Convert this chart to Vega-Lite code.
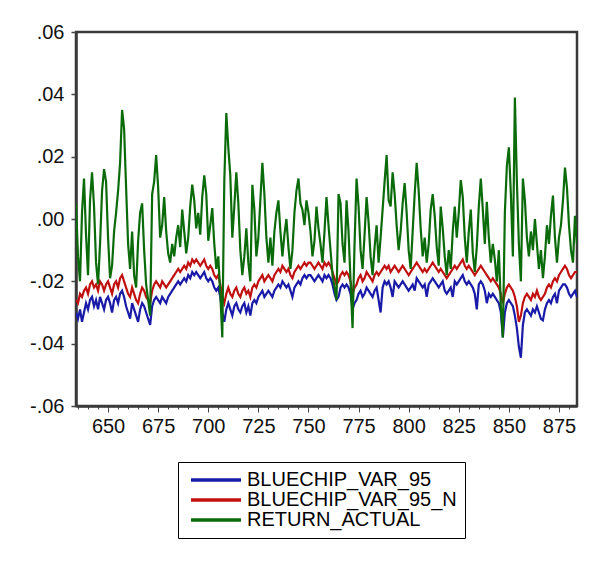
{
  "$schema": "https://vega.github.io/schema/vega-lite/v6.json",
  "autosize": "none",
  "padding": {"left": 76, "top": 32, "right": 33, "bottom": 161},
  "width": 501,
  "height": 374,
  "background": "white",
  "config": {
    "view": {"stroke": "#3a3a3a", "strokeWidth": 2.5},
    "font": "Liberation Sans"
  },
  "data": {"values": [
{"t":634,"b":-0.030,"r":-0.026,"g":0.005},
{"t":635,"b":-0.032,"r":-0.027,"g":-0.012},
{"t":636,"b":-0.029,"r":-0.024,"g":-0.020},
{"t":637,"b":-0.033,"r":-0.025,"g":0.002},
{"t":638,"b":-0.030,"r":-0.023,"g":0.013},
{"t":639,"b":-0.027,"r":-0.022,"g":-0.005},
{"t":640,"b":-0.029,"r":-0.024,"g":-0.018},
{"t":641,"b":-0.026,"r":-0.021,"g":0.006},
{"t":642,"b":-0.025,"r":-0.020,"g":0.015},
{"t":643,"b":-0.028,"r":-0.022,"g":0.004},
{"t":644,"b":-0.026,"r":-0.021,"g":-0.014},
{"t":645,"b":-0.029,"r":-0.023,"g":-0.021},
{"t":646,"b":-0.025,"r":-0.020,"g":-0.008},
{"t":647,"b":-0.027,"r":-0.021,"g":0.009},
{"t":648,"b":-0.029,"r":-0.023,"g":0.016},
{"t":649,"b":-0.026,"r":-0.021,"g":0.012},
{"t":650,"b":-0.025,"r":-0.020,"g":-0.006},
{"t":651,"b":-0.027,"r":-0.022,"g":-0.019},
{"t":652,"b":-0.030,"r":-0.024,"g":-0.015},
{"t":653,"b":-0.026,"r":-0.021,"g":-0.004},
{"t":654,"b":-0.025,"r":-0.020,"g":0.002},
{"t":655,"b":-0.027,"r":-0.022,"g":0.009},
{"t":656,"b":-0.024,"r":-0.019,"g":0.018},
{"t":657,"b":-0.023,"r":-0.018,"g":0.035},
{"t":658,"b":-0.025,"r":-0.020,"g":0.029},
{"t":659,"b":-0.028,"r":-0.022,"g":0.010},
{"t":660,"b":-0.030,"r":-0.024,"g":-0.008},
{"t":661,"b":-0.032,"r":-0.025,"g":-0.016},
{"t":662,"b":-0.027,"r":-0.022,"g":-0.004},
{"t":663,"b":-0.029,"r":-0.024,"g":-0.018},
{"t":664,"b":-0.031,"r":-0.026,"g":-0.022},
{"t":665,"b":-0.033,"r":-0.027,"g":-0.007},
{"t":666,"b":-0.029,"r":-0.024,"g":0.002},
{"t":667,"b":-0.027,"r":-0.022,"g":0.005},
{"t":668,"b":-0.028,"r":-0.023,"g":-0.010},
{"t":669,"b":-0.030,"r":-0.025,"g":-0.021},
{"t":670,"b":-0.032,"r":-0.026,"g":-0.026},
{"t":671,"b":-0.034,"r":-0.027,"g":-0.031},
{"t":672,"b":-0.028,"r":-0.023,"g":0.008},
{"t":673,"b":-0.026,"r":-0.021,"g":0.012},
{"t":674,"b":-0.025,"r":-0.020,"g":0.0205},
{"t":675,"b":-0.026,"r":-0.021,"g":0.010},
{"t":676,"b":-0.027,"r":-0.022,"g":-0.006},
{"t":677,"b":-0.025,"r":-0.020,"g":-0.002},
{"t":678,"b":-0.026,"r":-0.021,"g":0.007},
{"t":679,"b":-0.027,"r":-0.022,"g":-0.004},
{"t":680,"b":-0.025,"r":-0.021,"g":-0.011},
{"t":681,"b":-0.024,"r":-0.020,"g":-0.014},
{"t":682,"b":-0.023,"r":-0.019,"g":-0.008},
{"t":683,"b":-0.022,"r":-0.018,"g":-0.012},
{"t":684,"b":-0.021,"r":-0.017,"g":-0.006},
{"t":685,"b":-0.020,"r":-0.016,"g":-0.002},
{"t":686,"b":-0.021,"r":-0.017,"g":-0.009},
{"t":687,"b":-0.020,"r":-0.016,"g":0.003},
{"t":688,"b":-0.019,"r":-0.015,"g":-0.004},
{"t":689,"b":-0.020,"r":-0.016,"g":-0.011},
{"t":690,"b":-0.018,"r":-0.014,"g":-0.006},
{"t":691,"b":-0.019,"r":-0.015,"g":0.004},
{"t":692,"b":-0.017,"r":-0.013,"g":0.011},
{"t":693,"b":-0.018,"r":-0.014,"g":0.006},
{"t":694,"b":-0.017,"r":-0.013,"g":-0.003},
{"t":695,"b":-0.018,"r":-0.014,"g":0.002},
{"t":696,"b":-0.019,"r":-0.015,"g":-0.005},
{"t":697,"b":-0.018,"r":-0.014,"g":0.007},
{"t":698,"b":-0.017,"r":-0.013,"g":0.014},
{"t":699,"b":-0.019,"r":-0.015,"g":0.008},
{"t":700,"b":-0.020,"r":-0.016,"g":-0.007},
{"t":701,"b":-0.019,"r":-0.015,"g":-0.002},
{"t":702,"b":-0.020,"r":-0.016,"g":0.0035},
{"t":703,"b":-0.022,"r":-0.018,"g":-0.008},
{"t":704,"b":-0.023,"r":-0.019,"g":-0.016},
{"t":705,"b":-0.022,"r":-0.018,"g":-0.012},
{"t":706,"b":-0.025,"r":-0.021,"g":-0.024},
{"t":707,"b":-0.030,"r":-0.025,"g":-0.038},
{"t":708,"b":-0.033,"r":-0.027,"g":0.012},
{"t":709,"b":-0.029,"r":-0.024,"g":0.034},
{"t":710,"b":-0.027,"r":-0.022,"g":0.023},
{"t":711,"b":-0.029,"r":-0.024,"g":0.014},
{"t":712,"b":-0.031,"r":-0.025,"g":-0.006},
{"t":713,"b":-0.028,"r":-0.023,"g":0.004},
{"t":714,"b":-0.027,"r":-0.022,"g":0.015},
{"t":715,"b":-0.029,"r":-0.024,"g":0.005},
{"t":716,"b":-0.030,"r":-0.025,"g":-0.010},
{"t":717,"b":-0.028,"r":-0.023,"g":-0.018},
{"t":718,"b":-0.027,"r":-0.022,"g":-0.012},
{"t":719,"b":-0.030,"r":-0.024,"g":-0.003},
{"t":720,"b":-0.028,"r":-0.023,"g":-0.014},
{"t":721,"b":-0.031,"r":-0.025,"g":-0.020},
{"t":722,"b":-0.027,"r":-0.022,"g":0.011},
{"t":723,"b":-0.026,"r":-0.021,"g":0.003},
{"t":724,"b":-0.027,"r":-0.022,"g":-0.012},
{"t":725,"b":-0.025,"r":-0.020,"g":-0.006},
{"t":726,"b":-0.024,"r":-0.019,"g":0.006},
{"t":727,"b":-0.023,"r":-0.018,"g":0.018},
{"t":728,"b":-0.025,"r":-0.020,"g":0.008},
{"t":729,"b":-0.024,"r":-0.019,"g":-0.006},
{"t":730,"b":-0.023,"r":-0.018,"g":-0.014},
{"t":731,"b":-0.024,"r":-0.019,"g":-0.006},
{"t":732,"b":-0.025,"r":-0.020,"g":-0.015},
{"t":733,"b":-0.023,"r":-0.018,"g":-0.004},
{"t":734,"b":-0.022,"r":-0.017,"g":0.002},
{"t":735,"b":-0.021,"r":-0.016,"g":0.006},
{"t":736,"b":-0.022,"r":-0.017,"g":-0.004},
{"t":737,"b":-0.020,"r":-0.015,"g":-0.012},
{"t":738,"b":-0.021,"r":-0.016,"g":-0.005},
{"t":739,"b":-0.022,"r":-0.017,"g":0.000},
{"t":740,"b":-0.021,"r":-0.016,"g":-0.009},
{"t":741,"b":-0.023,"r":-0.018,"g":-0.016},
{"t":742,"b":-0.025,"r":-0.019,"g":-0.010},
{"t":743,"b":-0.022,"r":-0.017,"g":0.002},
{"t":744,"b":-0.021,"r":-0.016,"g":0.009},
{"t":745,"b":-0.020,"r":-0.015,"g":0.013},
{"t":746,"b":-0.021,"r":-0.016,"g":0.005},
{"t":747,"b":-0.019,"r":-0.015,"g":0.003},
{"t":748,"b":-0.018,"r":-0.014,"g":-0.002},
{"t":749,"b":-0.019,"r":-0.015,"g":0.006},
{"t":750,"b":-0.018,"r":-0.014,"g":0.002},
{"t":751,"b":-0.018,"r":-0.014,"g":-0.004},
{"t":752,"b":-0.019,"r":-0.015,"g":-0.012},
{"t":753,"b":-0.020,"r":-0.016,"g":-0.007},
{"t":754,"b":-0.019,"r":-0.015,"g":0.004},
{"t":755,"b":-0.018,"r":-0.014,"g":-0.003},
{"t":756,"b":-0.019,"r":-0.015,"g":-0.008},
{"t":757,"b":-0.020,"r":-0.016,"g":-0.014},
{"t":758,"b":-0.018,"r":-0.014,"g":-0.004},
{"t":759,"b":-0.019,"r":-0.015,"g":0.007},
{"t":760,"b":-0.018,"r":-0.014,"g":-0.002},
{"t":761,"b":-0.019,"r":-0.015,"g":-0.010},
{"t":762,"b":-0.021,"r":-0.017,"g":-0.018},
{"t":763,"b":-0.024,"r":-0.019,"g":-0.022},
{"t":764,"b":-0.026,"r":-0.021,"g":-0.026},
{"t":765,"b":-0.025,"r":-0.020,"g":0.008},
{"t":766,"b":-0.022,"r":-0.018,"g":0.005},
{"t":767,"b":-0.021,"r":-0.017,"g":-0.008},
{"t":768,"b":-0.022,"r":-0.018,"g":-0.014},
{"t":769,"b":-0.021,"r":-0.017,"g":0.006},
{"t":770,"b":-0.022,"r":-0.018,"g":-0.004},
{"t":771,"b":-0.024,"r":-0.020,"g":-0.020},
{"t":772,"b":-0.029,"r":-0.024,"g":-0.035},
{"t":773,"b":-0.027,"r":-0.022,"g":-0.008},
{"t":774,"b":-0.026,"r":-0.021,"g":0.013},
{"t":775,"b":-0.024,"r":-0.019,"g":0.004},
{"t":776,"b":-0.023,"r":-0.018,"g":-0.010},
{"t":777,"b":-0.025,"r":-0.020,"g":-0.016},
{"t":778,"b":-0.024,"r":-0.019,"g":-0.005},
{"t":779,"b":-0.022,"r":-0.017,"g":0.007},
{"t":780,"b":-0.023,"r":-0.018,"g":-0.001},
{"t":781,"b":-0.024,"r":-0.019,"g":-0.012},
{"t":782,"b":-0.025,"r":-0.020,"g":-0.018},
{"t":783,"b":-0.023,"r":-0.018,"g":-0.009},
{"t":784,"b":-0.022,"r":-0.017,"g":-0.002},
{"t":785,"b":-0.026,"r":-0.018,"g":-0.014},
{"t":786,"b":-0.030,"r":-0.017,"g":-0.006},
{"t":787,"b":-0.022,"r":-0.016,"g":0.003},
{"t":788,"b":-0.020,"r":-0.015,"g":0.012},
{"t":789,"b":-0.021,"r":-0.016,"g":0.0205},
{"t":790,"b":-0.020,"r":-0.015,"g":0.006},
{"t":791,"b":-0.022,"r":-0.017,"g":0.004},
{"t":792,"b":-0.025,"r":-0.016,"g":0.015},
{"t":793,"b":-0.020,"r":-0.015,"g":0.008},
{"t":794,"b":-0.021,"r":-0.016,"g":-0.002},
{"t":795,"b":-0.022,"r":-0.017,"g":-0.010},
{"t":796,"b":-0.021,"r":-0.016,"g":-0.004},
{"t":797,"b":-0.020,"r":-0.015,"g":0.005},
{"t":798,"b":-0.021,"r":-0.016,"g":0.0115},
{"t":799,"b":-0.022,"r":-0.017,"g":0.002},
{"t":800,"b":-0.023,"r":-0.018,"g":-0.010},
{"t":801,"b":-0.022,"r":-0.017,"g":-0.016},
{"t":802,"b":-0.021,"r":-0.016,"g":-0.004},
{"t":803,"b":-0.023,"r":-0.015,"g":0.008},
{"t":804,"b":-0.019,"r":-0.014,"g":0.018},
{"t":805,"b":-0.020,"r":-0.015,"g":0.009},
{"t":806,"b":-0.021,"r":-0.016,"g":-0.003},
{"t":807,"b":-0.022,"r":-0.017,"g":-0.012},
{"t":808,"b":-0.021,"r":-0.016,"g":-0.006},
{"t":809,"b":-0.025,"r":-0.017,"g":-0.014},
{"t":810,"b":-0.021,"r":-0.016,"g":-0.008},
{"t":811,"b":-0.020,"r":-0.015,"g":0.003},
{"t":812,"b":-0.019,"r":-0.014,"g":0.008},
{"t":813,"b":-0.020,"r":-0.015,"g":0.001},
{"t":814,"b":-0.021,"r":-0.016,"g":-0.009},
{"t":815,"b":-0.022,"r":-0.017,"g":-0.015},
{"t":816,"b":-0.021,"r":-0.016,"g":0.004},
{"t":817,"b":-0.020,"r":-0.017,"g":-0.003},
{"t":818,"b":-0.023,"r":-0.018,"g":-0.012},
{"t":819,"b":-0.024,"r":-0.019,"g":-0.018},
{"t":820,"b":-0.023,"r":-0.018,"g":-0.010},
{"t":821,"b":-0.022,"r":-0.017,"g":-0.016},
{"t":822,"b":-0.025,"r":-0.016,"g":-0.004},
{"t":823,"b":-0.020,"r":-0.015,"g":0.004},
{"t":824,"b":-0.021,"r":-0.016,"g":-0.006},
{"t":825,"b":-0.020,"r":-0.015,"g":0.002},
{"t":826,"b":-0.019,"r":-0.014,"g":0.0125},
{"t":827,"b":-0.018,"r":-0.013,"g":0.007},
{"t":828,"b":-0.020,"r":-0.015,"g":-0.006},
{"t":829,"b":-0.021,"r":-0.016,"g":-0.014},
{"t":830,"b":-0.020,"r":-0.015,"g":-0.004},
{"t":831,"b":-0.021,"r":-0.016,"g":0.003},
{"t":832,"b":-0.022,"r":-0.017,"g":-0.011},
{"t":833,"b":-0.024,"r":-0.018,"g":-0.017},
{"t":834,"b":-0.029,"r":-0.017,"g":-0.009},
{"t":835,"b":-0.021,"r":-0.016,"g":0.004},
{"t":836,"b":-0.020,"r":-0.015,"g":0.013},
{"t":837,"b":-0.021,"r":-0.016,"g":0.003},
{"t":838,"b":-0.023,"r":-0.017,"g":-0.008},
{"t":839,"b":-0.027,"r":-0.018,"g":0.0055},
{"t":840,"b":-0.024,"r":-0.019,"g":-0.006},
{"t":841,"b":-0.025,"r":-0.020,"g":-0.014},
{"t":842,"b":-0.024,"r":-0.019,"g":-0.008},
{"t":843,"b":-0.025,"r":-0.020,"g":-0.013},
{"t":844,"b":-0.026,"r":-0.021,"g":-0.020},
{"t":845,"b":-0.027,"r":-0.022,"g":-0.010},
{"t":846,"b":-0.030,"r":-0.024,"g":-0.028},
{"t":847,"b":-0.038,"r":-0.027,"g":-0.038},
{"t":848,"b":-0.030,"r":-0.024,"g":0.002},
{"t":849,"b":-0.027,"r":-0.022,"g":0.017},
{"t":850,"b":-0.026,"r":-0.021,"g":0.023},
{"t":851,"b":-0.027,"r":-0.022,"g":0.008},
{"t":852,"b":-0.028,"r":-0.023,"g":-0.012},
{"t":853,"b":-0.031,"r":-0.025,"g":0.039},
{"t":854,"b":-0.035,"r":-0.028,"g":0.012},
{"t":855,"b":-0.041,"r":-0.033,"g":-0.008},
{"t":856,"b":-0.0445,"r":-0.031,"g":-0.020},
{"t":857,"b":-0.034,"r":-0.027,"g":0.013},
{"t":858,"b":-0.030,"r":-0.025,"g":0.006},
{"t":859,"b":-0.029,"r":-0.024,"g":-0.006},
{"t":860,"b":-0.030,"r":-0.025,"g":-0.012},
{"t":861,"b":-0.031,"r":-0.026,"g":-0.004},
{"t":862,"b":-0.029,"r":-0.024,"g":-0.010},
{"t":863,"b":-0.030,"r":-0.025,"g":0.000},
{"t":864,"b":-0.028,"r":-0.023,"g":-0.008},
{"t":865,"b":-0.030,"r":-0.025,"g":-0.016},
{"t":866,"b":-0.032,"r":-0.026,"g":-0.010},
{"t":867,"b":-0.0325,"r":-0.025,"g":-0.019},
{"t":868,"b":-0.029,"r":-0.024,"g":-0.012},
{"t":869,"b":-0.027,"r":-0.022,"g":-0.002},
{"t":870,"b":-0.026,"r":-0.021,"g":-0.008},
{"t":871,"b":-0.027,"r":-0.022,"g":0.001},
{"t":872,"b":-0.025,"r":-0.020,"g":0.0075},
{"t":873,"b":-0.024,"r":-0.019,"g":-0.006},
{"t":874,"b":-0.027,"r":-0.020,"g":-0.014},
{"t":875,"b":-0.023,"r":-0.018,"g":-0.006},
{"t":876,"b":-0.022,"r":-0.017,"g":-0.002},
{"t":877,"b":-0.021,"r":-0.016,"g":0.006},
{"t":878,"b":-0.021,"r":-0.015,"g":0.0165},
{"t":879,"b":-0.022,"r":-0.016,"g":0.010},
{"t":880,"b":-0.024,"r":-0.018,"g":-0.002},
{"t":881,"b":-0.025,"r":-0.019,"g":-0.010},
{"t":882,"b":-0.024,"r":-0.018,"g":-0.014},
{"t":883,"b":-0.023,"r":-0.017,"g":0.001},
{"t":884,"b":-0.025,"r":-0.017,"g":-0.008}
  ]},
  "transform": [{"fold": ["b", "r", "g"], "as": ["s", "v"]}],
  "mark": {"type": "line", "strokeWidth": 2.2, "clip": true},
  "encoding": {
    "x": {
      "field": "t", "type": "quantitative",
      "scale": {"domain": [634, 884], "nice": false, "zero": false},
      "axis": {
        "title": null, "grid": false,
        "values": [635,640,645,650,655,660,665,670,675,680,685,690,695,700,705,710,715,720,725,730,735,740,745,750,755,760,765,770,775,780,785,790,795,800,805,810,815,820,825,830,835,840,845,850,855,860,865,870,875,880],
        "labelExpr": "datum.value % 25 === 0 ? datum.label : ''",
        "labelOverlap": false,
        "labelFontSize": 20, "labelColor": "#111", "labelPadding": 4,
        "tickColor": "#444", "tickWidth": 1,
        "tickSize": {"condition": {"test": "datum.value % 25 === 0", "value": 6}, "value": 3},
        "domainColor": "#3a3a3a", "domainWidth": 2.5
      }
    },
    "y": {
      "field": "v", "type": "quantitative",
      "scale": {"domain": [-0.06, 0.06], "nice": false},
      "axis": {
        "title": null, "grid": false,
        "values": [-0.06, -0.04, -0.02, 0, 0.02, 0.04, 0.06],
        "labelExpr": "(datum.value < 0 ? '-' : '') + substring(format(abs(datum.value), '.2f'), 1)",
        "labelFontSize": 20, "labelColor": "#111", "labelPadding": 7,
        "tickColor": "#444", "tickSize": 5, "tickWidth": 1.5,
        "domainColor": "#3a3a3a", "domainWidth": 2.5
      }
    },
    "color": {
      "field": "s", "type": "nominal",
      "scale": {"domain": ["b", "r", "g"], "range": ["#1a1aa8", "#c01010", "#0b6b0b"]},
      "legend": {
        "title": null,
        "orient": "none", "legendX": 102, "legendY": 430,
        "direction": "vertical",
        "labelExpr": "datum.label === 'b' ? 'BLUECHIP_VAR_95' : datum.label === 'r' ? 'BLUECHIP_VAR_95_N' : 'RETURN_ACTUAL'",
        "symbolType": "M-1,0H9", "symbolSize": 100, "symbolStrokeWidth": 3.5,
        "labelFontSize": 20, "labelColor": "#000", "labelOffset": 41, "labelLimit": 400,
        "strokeColor": "#000", "fillColor": "white", "padding": 8,
        "rowPadding": -1
      }
    }
  }
}
